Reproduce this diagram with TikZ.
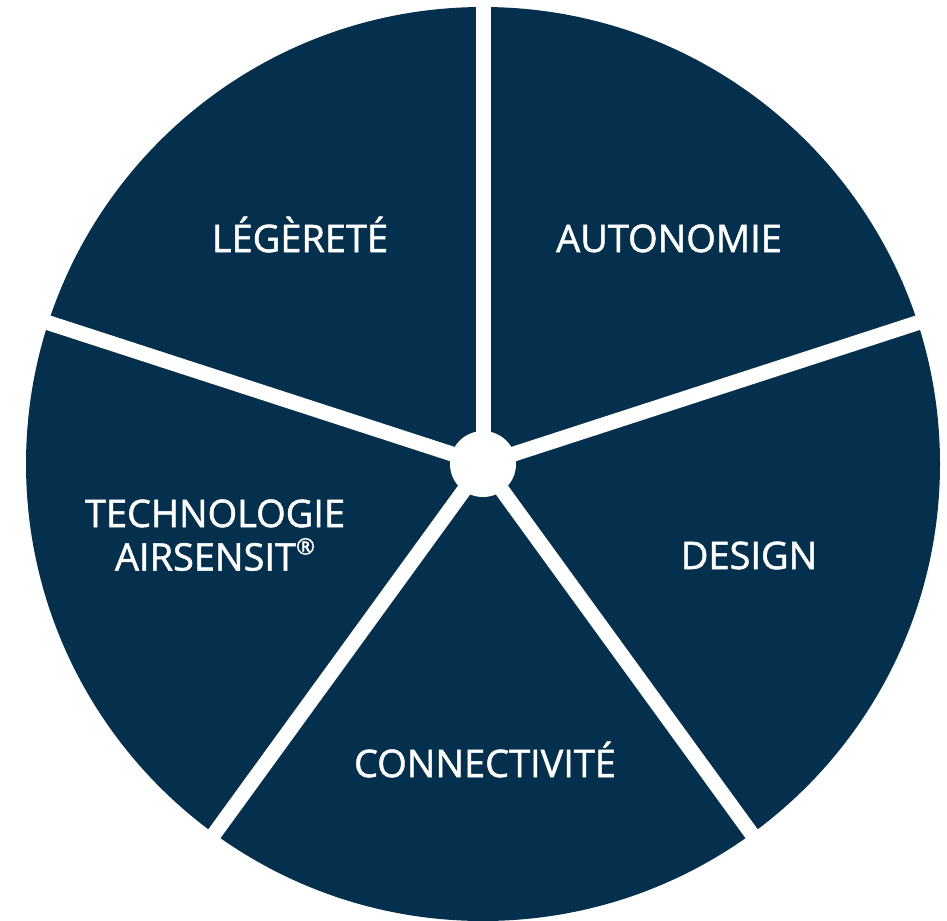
\documentclass[tikz,border=0pt]{standalone}
\usepackage{fontspec}
\setmainfont{Open Sans}
\newfontfamily\labfont{Open Sans}[BoldFont={Open Sans},BoldFeatures={FakeBold=1.3}]
\usetikzlibrary{positioning}
\definecolor{navy}{RGB}{4,48,77}
\newcommand{\regmark}{\raisebox{0.42em}{\fontsize{6.5}{7}\selectfont ®}}

\begin{document}
\begin{tikzpicture}[
		lab/.style={font=\labfont\bfseries\fontsize{10.8}{13}\selectfont,text=white,anchor=base},
		sep/.style={draw=white,line width=1.5mm},
		hub/.style={circle,fill=white,minimum size=6.6mm,inner sep=0pt}
		]
		\useasboundingbox (0,0) rectangle (9.47,9.20);
		
		% --- Disc
		\coordinate (c) at (4.83,4.56);
		\fill[navy] (c) circle (4.57);
		
		% --- White separators and hub
		\foreach \a in {90,18,-54,-126,162}
		\draw[sep] (c) -- ++(\a:4.7);
		\node[hub] (hub) at (c) {};
		
		% --- Labels
		\node[lab] (leg) at (3.00,6.68) {LÉGÈRETÉ};
		\node[lab] (auto) at (6.69,6.68) {AUTONOMIE};
		\node[lab] (tech) at (2.15,3.93) {TECHNOLOGIE};
		\node[lab] (air) at ([yshift=-4.35mm]tech.base) {AIRSENSIT\regmark};
		\node[lab] (design) at (7.49,3.51) {DESIGN};
		\node[lab] (conn) at (4.85,1.43) {CONNECTIVITÉ};
		
	\end{tikzpicture}
\end{document}
